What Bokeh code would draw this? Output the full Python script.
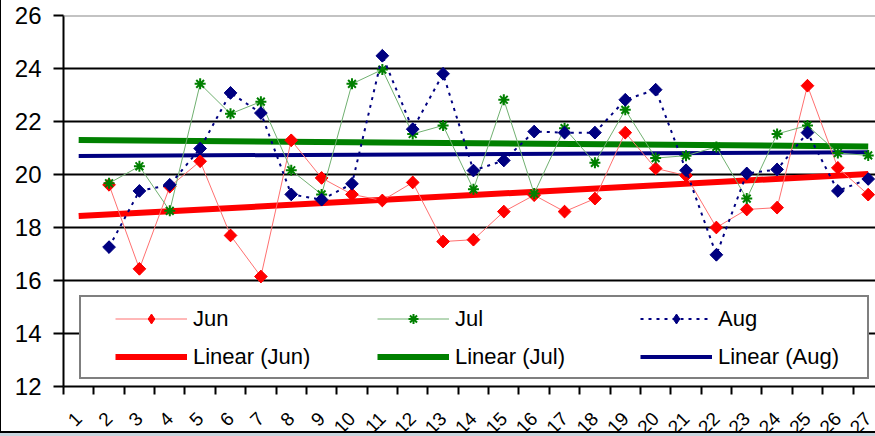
import numpy as np
from bokeh.plotting import figure
from bokeh.models import (Range1d, FixedTicker, Legend, LegendItem, Span, Div)
from bokeh.layouts import column, row
from bokeh.embed import file_html
from bokeh.resources import INLINE

# ---------------- data ----------------
categories = [str(d) for d in range(1, 28)]
cat_pos = list(range(1, 28))
days = list(range(2, 28))
jun = [19.61, 16.44, 19.54, 20.5, 17.7, 16.15, 21.29, 19.87, 19.25, 19.02, 19.7, 17.47, 17.54,
       18.6, 19.22, 18.6, 19.09, 21.58, 20.23, 19.96, 18.0, 18.68, 18.75, 23.35, 20.25, 19.24]
jul = [19.67, 20.31, 18.63, 23.42, 22.29, 22.75, 20.16, 19.25, 23.42, 23.96, 21.53, 21.85, 19.44,
       22.82, 19.28, 21.75, 20.44, 22.44, 20.62, 20.71, 21.04, 19.09, 21.53, 21.85, 20.81, 20.72]
aug = [17.26, 19.38, 19.61, 20.98, 23.08, 22.32, 19.25, 19.05, 19.65, 24.48, 21.71, 23.8, 20.15,
       20.53, 21.62, 21.58, 21.58, 22.82, 23.2, 20.16, 16.97, 20.04, 20.19, 21.58, 19.38, 19.83]
trend_days = [1, 27]
trend_jun = [18.43, 20.02]
trend_jul = [21.30, 21.06]
trend_aug = [20.70, 20.84]
y_ticks = [12, 14, 16, 18, 20, 22, 24, 26]

FONT = "Liberation Sans"
RED, GREEN, NAVY = "#FF0000", "#008000", "#000080"

# canvas runs a little past the window bottom; the chart-area border Divs overlay it at y=431
p = figure(width=874, height=450, x_range=Range1d(0.5, 27.24), y_range=Range1d(12, 26),
           output_backend="svg", toolbar_location=None,
           min_border_left=62, min_border_top=15, min_border_bottom=64, min_border_right=0,
           outline_line_color=None, background_fill_color="white", border_fill_color="white")

# trend lines
tj = p.line(trend_days, trend_jun, line_color=RED, line_width=6)
tl = p.line(trend_days, trend_jul, line_color=GREEN, line_width=6)
ta = p.line(trend_days, trend_aug, line_color=NAVY, line_width=4)

# series (the plain diamonds sit hidden under the rotated squares and serve the legend)
lj = p.line(days, jun, line_color="#FF7070", line_width=1)
gj = p.scatter(days, jun, marker="diamond", size=12, fill_color=RED, line_color=RED)
mj = p.scatter(days, jun, marker="square", angle=45, angle_units="deg", size=9,
               fill_color=RED, line_color=RED)
ll = p.line(days, jul, line_color="#70B070", line_width=1)
ml = p.scatter(days, jul, marker="asterisk", size=11, line_color=GREEN, line_width=2)
la = p.line(days, aug, line_color=NAVY, line_width=2, line_dash="3 5")
ga = p.scatter(days, aug, marker="diamond", size=12, fill_color=NAVY, line_color=NAVY)
ma = p.scatter(days, aug, marker="square", angle=45, angle_units="deg", size=9,
               fill_color=NAVY, line_color=NAVY)

# top border of plot area
p.add_layout(Span(location=26, dimension="width", line_color="#888888", line_width=2))

# x axis: tick marks between categories, labels at category centres
p.xaxis.ticker = FixedTicker(ticks=cat_pos, minor_ticks=[c - 0.5 for c in cat_pos] + [cat_pos[-1] + 0.5])
p.xaxis.major_label_overrides = {c: s for c, s in zip(cat_pos, categories)}
p.xaxis.major_tick_out = 0
p.xaxis.major_tick_in = 0
p.xaxis.minor_tick_out = 8
p.xaxis.minor_tick_in = 0
p.xaxis.minor_tick_line_color = "black"
p.xaxis.minor_tick_line_width = 2
p.xaxis.axis_line_width = 2
p.xaxis.axis_line_color = "black"
p.xaxis.major_label_orientation = np.pi / 4
p.xaxis.major_label_standoff = 21
p.xaxis.major_label_text_font = FONT
p.xaxis.major_label_text_font_size = "19px"
p.xaxis.major_label_text_color = "black"

p.yaxis.ticker = FixedTicker(ticks=y_ticks)
p.yaxis.major_tick_out = 10
p.yaxis.major_tick_in = 0
p.yaxis.major_tick_line_width = 2
p.yaxis.major_tick_line_color = "black"
p.yaxis.minor_tick_line_color = None
p.yaxis.axis_line_width = 2
p.yaxis.axis_line_color = "black"
p.yaxis.major_label_standoff = 12
p.yaxis.major_label_text_font = FONT
p.yaxis.major_label_text_font_size = "24px"
p.yaxis.major_label_text_color = "black"

p.xgrid.grid_line_color = None
p.ygrid.ticker = FixedTicker(ticks=y_ticks[1:-1])
p.ygrid.grid_line_color = "black"
p.ygrid.grid_line_width = 2

# legend box (frame only)
box_r = p.line([], [], line_alpha=0)
box = Legend(items=[LegendItem(label=" ", renderers=[box_r])], location=(16, 7),
             glyph_width=786, glyph_height=80, label_standoff=0, label_width=0, label_height=0,
             label_text_font_size="1px", padding=0, margin=0, spacing=0,
             border_line_color="black", border_line_width=2,
             background_fill_color="white", background_fill_alpha=1.0)
p.add_layout(box, "center")

cols = [("Jun", "Linear (Jun)", [lj, gj], [tj], 52),
        ("Jul", "Linear (Jul)", [ll, ml], [tl], 314),
        ("Aug", "Linear (Aug)", [la, ga], [ta], 577)]
for name, tname, rs, trs, xoff in cols:
    lg = Legend(items=[LegendItem(label=name, renderers=rs), LegendItem(label=tname, renderers=trs)],
                location=(xoff, 16.5), orientation="vertical",
                glyph_width=72, glyph_height=25, label_height=25, label_standoff=6, label_width=10,
                spacing=12, padding=0, margin=0,
                border_line_color=None, background_fill_alpha=0,
                label_text_font=FONT, label_text_font_size="22px", label_text_color="black")
    p.add_layout(lg, "center")

left_border = Div(text="", width=1, height=450, margin=0, styles={"background-color": "black"})
bottom_border = Div(text="", width=875, height=2, margin=(-19, 0, 0, 0),
                    styles={"background-color": "black"})
bottom_strip = Div(text="", width=875, height=3, margin=0, styles={"background-color": "#C8D5DE"})
layout = column(row(left_border, p, spacing=0), bottom_border, bottom_strip, spacing=0)

open("out.html", "w").write(file_html(layout, INLINE))
